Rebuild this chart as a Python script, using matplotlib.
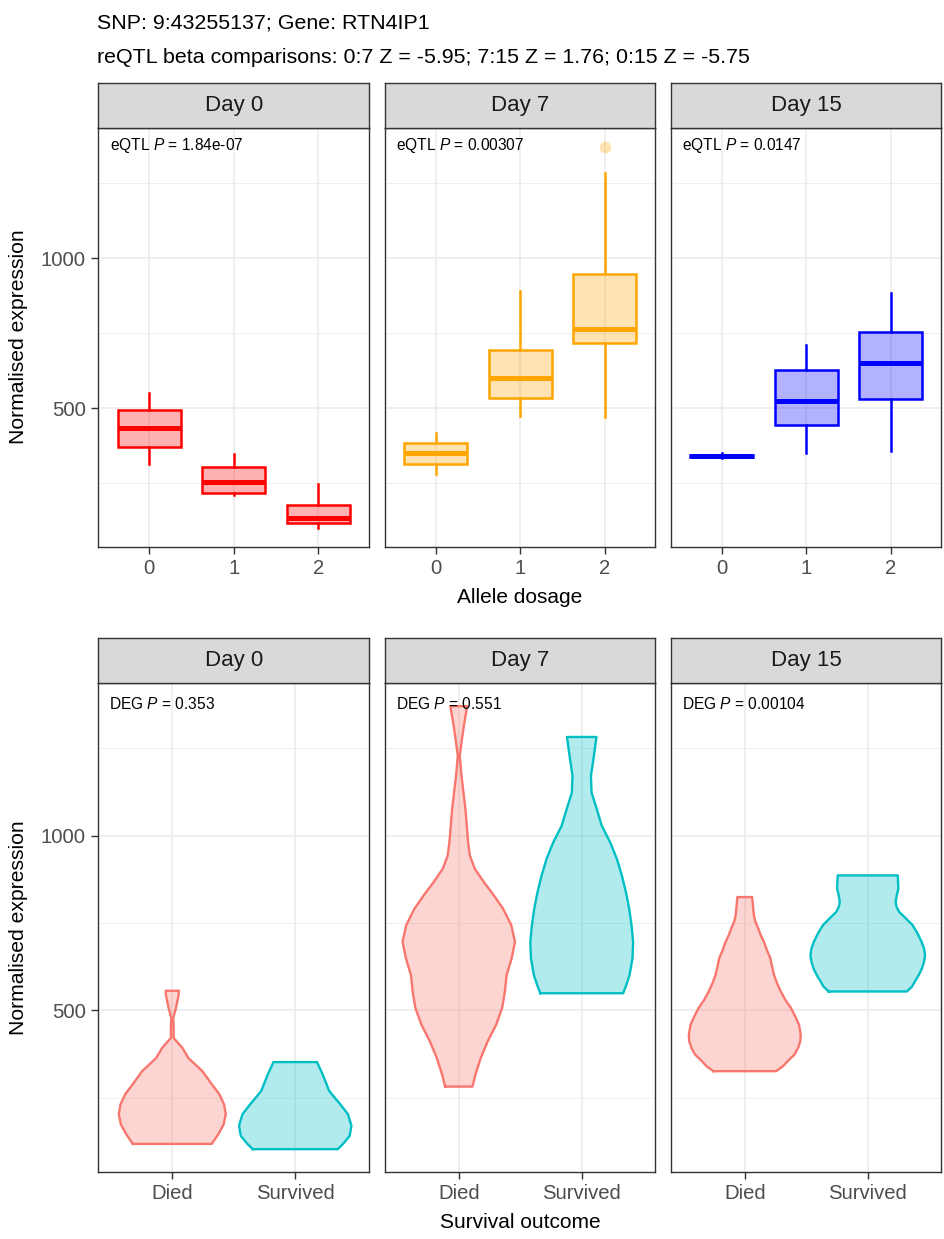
import matplotlib
matplotlib.use("Agg")
import matplotlib.pyplot as plt
from matplotlib.transforms import blended_transform_factory

plt.rcParams['font.family'] = ['Liberation Sans', 'DejaVu Sans']
plt.rcParams['mathtext.fontset'] = 'custom'
plt.rcParams['mathtext.rm'] = 'Liberation Sans'
plt.rcParams['mathtext.it'] = 'Liberation Sans:italic'

# ---- data ----
days = ["Day 0", "Day 7", "Day 15"]
day_colors = ["#FF0000", "#FFA500", "#0000FF"]
dosages = ["0", "1", "2"]
outcomes = ["Died", "Survived"]
outcome_colors = ["#F8766D", "#00BFC4"]
eqtl_p = ["1.84e-07", "0.00307", "0.0147"]
deg_p = ["0.353", "0.551", "0.00104"]
snp_title = "SNP: 9:43255137; Gene: RTN4IP1"
reqtl_title = "reQTL beta comparisons: 0:7 Z = -5.95; 7:15 Z = 1.76; 0:15 Z = -5.75"

# boxplot stats per day, per dosage 0/1/2
box_whislo = [[313, 209, 100], [281, 472, 469], [333, 350, 358]]
box_q1 = [[370, 217, 117], [313, 533, 717], [338, 444, 530]]
box_med = [[433, 252, 133], [350, 600, 764], [341, 522, 650]]
box_q3 = [[492, 302, 178], [385, 694, 947], [345, 628, 753]]
box_whishi = [[550, 347, 248], [417, 891, 1283], [350, 711, 885]]
box_outliers = [[[], [], []], [[], [], [1372]], [[], [], []]]

# violin outlines: expression values and half widths (x units), per day, per outcome
violin_y = [
    [[118, 146, 174, 203, 231, 260, 288, 326, 364, 393, 421, 450, 478, 507, 540, 556],
     [103, 118, 141, 170, 203, 231, 269, 317, 352]],
    [[282, 317, 364, 412, 459, 507, 554, 601, 649, 696, 744, 791, 829, 867, 905, 943, 981,
      1076, 1171, 1228, 1266, 1313, 1370],
     [549, 575, 601, 649, 696, 744, 791, 839, 886, 934, 981, 1028, 1076, 1123, 1171, 1218, 1282]],
    [[326, 340, 355, 374, 393, 412, 431, 459, 483, 507, 530, 554, 578, 601, 625, 649, 672,
      696, 715, 734, 755, 772, 824],
     [554, 568, 583, 601, 620, 639, 658, 677, 696, 720, 744, 763, 782, 796, 810, 829, 848, 886]],
]
violin_hw = [
    [[0.321, 0.375, 0.418, 0.435, 0.421, 0.383, 0.323, 0.245, 0.13, 0.082, 0.011, 0.011,
      0.008, 0.030, 0.050, 0.054],
     [0.345, 0.389, 0.443, 0.457, 0.429, 0.367, 0.277, 0.223, 0.177]],
    [[0.111, 0.136, 0.179, 0.236, 0.304, 0.353, 0.375, 0.389, 0.43, 0.457, 0.427, 0.36, 0.285,
      0.204, 0.13, 0.09, 0.076, 0.054, 0.022, 0.008, 0.022, 0.041, 0.068],
     [0.337, 0.365, 0.389, 0.413, 0.418, 0.405, 0.386, 0.359, 0.326, 0.285, 0.231, 0.163,
      0.122, 0.08, 0.075, 0.095, 0.12]],
    [[0.255, 0.310, 0.350, 0.405, 0.434, 0.452, 0.455, 0.441, 0.41, 0.375, 0.33, 0.293, 0.262,
      0.238, 0.222, 0.208, 0.18, 0.156, 0.13, 0.11, 0.085, 0.074, 0.06],
     [0.318, 0.36, 0.384, 0.415, 0.441, 0.458, 0.466, 0.458, 0.438, 0.405, 0.364, 0.31,
      0.255, 0.235, 0.227, 0.236, 0.249, 0.244]],
]

# ---- layout (pixels) ----
W, H = 945, 1239
fig = plt.figure(figsize=(W / 100, H / 100), dpi=100)
panel_x = [(98.5, 369), (385, 655.5), (671, 941.5)]
rows = [((82.7, 127.5), (127.5, 546.5)), ((638.3, 683.3), (683.3, 1171.7))]
ylim = (38.5, 1435.5)
border = "#333333"


def rect(l, t, r, b):
    return [l / W, 1 - b / H, (r - l) / W, (b - t) / H]


def style_panel(ax, first):
    ax.set_ylim(*ylim)
    ax.set_yticks([500, 1000])
    ax.set_yticks([250, 750, 1250], minor=True)
    ax.grid(which="major", color="#EBEBEB", lw=1.1)
    ax.grid(which="minor", axis="y", color="#EBEBEB", lw=0.55)
    ax.set_axisbelow(True)
    for s in ax.spines.values():
        s.set_color(border)
        s.set_linewidth(1.0)
    ax.tick_params(which="major", length=5, width=1.0, color=border,
                   labelsize=14.6, labelcolor="#4D4D4D", pad=4)
    ax.tick_params(which="minor", length=0)
    if not first:
        ax.tick_params(axis="y", which="both", left=False, labelleft=False)


def strip(l, t, r, b, label):
    s = fig.add_axes(rect(l, t, r, b))
    s.set_facecolor("#D9D9D9")
    s.set_xticks([])
    s.set_yticks([])
    for sp in s.spines.values():
        sp.set_color(border)
        sp.set_linewidth(1.0)
    s.text(0.5, 0.5, label, ha="center", va="center", fontsize=16,
           color="#1A1A1A", transform=s.transAxes)


# ---- top row: boxplots by allele dosage ----
(st_t, st_b), (p_t, p_b) = rows[0]
for i, day in enumerate(days):
    l, r = panel_x[i]
    ax = fig.add_axes(rect(l, p_t, r, p_b))
    strip(l, st_t, r, st_b, day)
    col = day_colors[i]
    stats = []
    for j in range(len(dosages)):
        stats.append(dict(whislo=box_whislo[i][j], q1=box_q1[i][j], med=box_med[i][j],
                          q3=box_q3[i][j], whishi=box_whishi[i][j],
                          fliers=box_outliers[i][j]))
    ax.bxp(stats, positions=range(len(dosages)), widths=0.75, patch_artist=True,
           showcaps=False,
           boxprops=dict(facecolor=matplotlib.colors.to_rgba(col, 0.3), edgecolor=col, lw=1.8),
           whiskerprops=dict(color=col, lw=1.8),
           medianprops=dict(color=col, lw=3.6, solid_capstyle="butt"),
           flierprops=dict(marker="o", markerfacecolor=matplotlib.colors.to_rgba(col, 0.3),
                           markeredgecolor="none", markersize=8.5))
    ax.set_xlim(-0.6, 2.6)
    ax.set_xticks(range(len(dosages)))
    ax.set_xticklabels(dosages)
    style_panel(ax, i == 0)
    tr = blended_transform_factory(ax.transAxes, ax.transData)
    ax.text(0.042, 1375, "eQTL $P$ = " + eqtl_p[i], transform=tr, ha="left", va="center",
            fontsize=11.2, color="black")

# ---- bottom row: violins by survival outcome ----
(st_t, st_b), (p_t, p_b) = rows[1]
for i, day in enumerate(days):
    l, r = panel_x[i]
    ax = fig.add_axes(rect(l, p_t, r, p_b))
    strip(l, st_t, r, st_b, day)
    for k in range(len(outcomes)):
        c = k + 1
        ys = violin_y[i][k]
        hw = violin_hw[i][k]
        left = [c - h for h in hw]
        right = [c + h for h in hw]
        ax.fill_betweenx(ys, left, right, color=outcome_colors[k], alpha=0.3, lw=0)
        xs = left + right[::-1] + [left[0]]
        yy = ys + ys[::-1] + [ys[0]]
        ax.plot(xs, yy, color=outcome_colors[k], lw=1.7, solid_joinstyle="round")
    ax.set_xlim(0.4, 2.6)
    ax.set_xticks([1, 2])
    ax.set_xticklabels(outcomes)
    style_panel(ax, i == 0)
    tr = blended_transform_factory(ax.transAxes, ax.transData)
    ax.text(0.04, 1375, "DEG $P$ = " + deg_p[i], transform=tr, ha="left", va="center",
            fontsize=11.2, color="black")

# ---- titles and axis labels ----
fig.text(97.5 / W, 1 - 28.3 / H, snp_title, fontsize=15.4, va="baseline", ha="left")
fig.text(97.5 / W, 1 - 63.3 / H, reqtl_title, fontsize=15.4, va="baseline", ha="left")
fig.text(520 / W, 1 - 602.5 / H, "Allele dosage", fontsize=15, ha="center", va="baseline")
fig.text(520 / W, 1 - 1228 / H, "Survival outcome", fontsize=15, ha="center", va="baseline")
fig.text(18.5 / W, 1 - 337 / H, "Normalised expression", fontsize=15.2, rotation=90,
         ha="center", va="center")
fig.text(18.5 / W, 1 - 927.5 / H, "Normalised expression", fontsize=15.2, rotation=90,
         ha="center", va="center")

fig.savefig("out.png", dpi=100, facecolor="white")
